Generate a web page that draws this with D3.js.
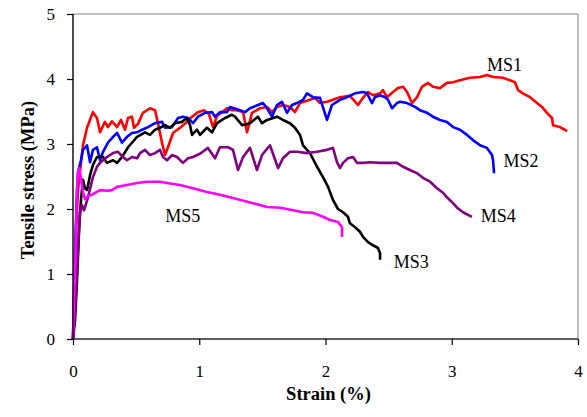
<!DOCTYPE html>
<html>
<head>
<meta charset="utf-8">
<script src="https://cdn.jsdelivr.net/npm/d3@7"></script>
<style>
  html, body { margin: 0; padding: 0; background: #fff; }
  svg { display: block; }
</style>
</head>
<body>
<svg id="chart" width="587" height="417"></svg>
<script>
// Tensile stress–strain curves of five mortar specimens (MS1–MS5)
const seriesNames = ["MS1", "MS2", "MS3", "MS4", "MS5"];

// strain (%) / stress (MPa) pairs per specimen
const ms1Strain = [0,0.008,0.024,0.040,0.055,0.079,0.111,0.158,0.190,0.214,0.253,0.277,0.309,0.349,0.380,0.412,0.436,0.467,0.483,0.515,0.554,0.610,0.650,0.673,0.705,0.729,0.752,0.792,0.848,0.903,0.943,0.990,1.038,1.077,1.109,1.141,1.180,1.220,1.259,1.299,1.347,1.378,1.418,1.481,1.537,1.576,1.616,1.663,1.719,1.758,1.798,1.877,1.917,1.956,2.012,2.059,2.115,2.194,2.257,2.297,2.337,2.376,2.432,2.455,2.487,2.535,2.574,2.614,2.646,2.685,2.725,2.764,2.812,2.851,2.907,2.962,3.010,3.065,3.145,3.224,3.279,3.327,3.406,3.461,3.501,3.525,3.564,3.620,3.675,3.715,3.754,3.794,3.802,3.857,3.913];
const ms1Stress = [0,0.75,1.68,2.29,2.57,2.98,3.25,3.49,3.40,3.18,3.34,3.26,3.35,3.26,3.37,3.22,3.40,3.42,3.25,3.31,3.48,3.55,3.52,3.32,3.02,2.83,2.95,3.17,3.25,3.34,3.42,3.49,3.52,3.46,3.26,3.43,3.49,3.55,3.52,3.52,3.49,3.18,3.48,3.55,3.57,3.49,3.57,3.60,3.57,3.49,3.63,3.68,3.71,3.63,3.65,3.68,3.72,3.74,3.60,3.71,3.80,3.75,3.78,3.83,3.72,3.80,3.86,3.88,3.80,3.63,3.72,3.88,3.94,3.88,3.86,3.94,3.95,3.98,4.02,4.03,4.06,4.03,4.02,3.98,3.95,3.83,3.78,3.72,3.63,3.57,3.48,3.40,3.29,3.26,3.20];

const ms2Strain = [0,0.008,0.016,0.032,0.040,0.063,0.079,0.111,0.135,0.158,0.190,0.214,0.238,0.277,0.317,0.349,0.388,0.428,0.467,0.507,0.547,0.594,0.650,0.705,0.729,0.784,0.832,0.871,0.911,0.950,0.990,1.046,1.101,1.125,1.164,1.220,1.244,1.323,1.362,1.402,1.465,1.505,1.537,1.576,1.616,1.655,1.695,1.735,1.774,1.822,1.853,1.901,1.956,2.012,2.051,2.115,2.170,2.234,2.297,2.329,2.368,2.392,2.432,2.471,2.495,2.527,2.566,2.590,2.646,2.709,2.748,2.804,2.851,2.907,2.962,3.010,3.065,3.121,3.168,3.224,3.279,3.319,3.327,3.335];
const ms2Stress = [0,0.60,1.37,2.29,2.57,2.75,2.91,2.98,2.72,2.91,2.95,2.75,2.88,3.02,3.11,3.17,3.02,3.11,3.17,3.18,3.22,3.26,3.32,3.34,3.25,3.26,3.40,3.42,3.40,3.32,3.42,3.48,3.49,3.42,3.49,3.49,3.57,3.52,3.49,3.55,3.60,3.63,3.55,3.42,3.60,3.65,3.48,3.60,3.63,3.68,3.78,3.72,3.71,3.37,3.60,3.68,3.72,3.78,3.80,3.78,3.63,3.72,3.75,3.72,3.68,3.55,3.63,3.65,3.63,3.57,3.52,3.48,3.42,3.37,3.34,3.26,3.22,3.14,3.06,2.98,2.94,2.83,2.75,2.55];

const ms3Strain = [0,0.016,0.032,0.048,0.063,0.079,0.095,0.111,0.135,0.158,0.190,0.238,0.269,0.317,0.349,0.388,0.436,0.507,0.570,0.610,0.650,0.689,0.729,0.768,0.808,0.863,0.903,0.927,0.943,0.982,1.006,1.061,1.101,1.141,1.204,1.259,1.283,1.339,1.402,1.465,1.497,1.537,1.616,1.663,1.719,1.758,1.798,1.822,1.877,1.933,1.980,2.020,2.059,2.099,2.139,2.178,2.194,2.234,2.273,2.297,2.337,2.368,2.416,2.432,2.432];
const ms3Stress = [0,0.29,0.91,1.68,2.14,2.45,2.32,2.29,2.52,2.68,2.80,2.80,2.71,2.75,2.71,2.80,2.95,3.11,3.18,3.14,3.22,3.25,3.29,3.25,3.32,3.34,3.40,3.29,3.14,3.22,3.14,3.25,3.18,3.32,3.40,3.45,3.42,3.29,3.32,3.42,3.32,3.37,3.42,3.37,3.32,3.25,3.14,2.98,2.86,2.65,2.49,2.34,2.14,2.00,1.95,1.88,1.78,1.72,1.65,1.57,1.49,1.45,1.40,1.32,1.22];

const ms4Strain = [0,0.016,0.032,0.048,0.055,0.071,0.087,0.095,0.119,0.158,0.190,0.214,0.269,0.317,0.356,0.396,0.428,0.467,0.507,0.531,0.570,0.610,0.650,0.689,0.713,0.745,0.784,0.824,0.871,0.911,0.950,1.006,1.069,1.125,1.164,1.228,1.267,1.307,1.347,1.402,1.457,1.497,1.560,1.624,1.663,1.719,1.774,1.853,1.933,2.012,2.059,2.091,2.115,2.139,2.178,2.218,2.249,2.297,2.352,2.432,2.511,2.566,2.614,2.669,2.725,2.772,2.828,2.883,2.931,2.962,3.010,3.042,3.089,3.160];
const ms4Stress = [0,0.45,1.06,1.68,1.95,2.06,1.98,2.03,2.18,2.49,2.65,2.71,2.80,2.86,2.88,2.80,2.75,2.80,2.78,2.86,2.91,2.83,2.86,2.91,2.80,2.75,2.83,2.80,2.71,2.78,2.80,2.85,2.94,2.78,2.95,2.95,2.91,2.60,2.80,2.94,2.60,2.83,2.98,2.63,2.78,2.88,2.88,2.86,2.88,2.91,2.94,2.72,2.63,2.71,2.78,2.80,2.71,2.71,2.72,2.71,2.71,2.71,2.65,2.60,2.55,2.48,2.42,2.32,2.25,2.18,2.09,2.02,1.95,1.88];

const ms5Strain = [0,0.008,0.016,0.024,0.032,0.040,0.048,0.063,0.079,0.095,0.119,0.150,0.214,0.269,0.309,0.349,0.428,0.507,0.586,0.689,0.745,0.848,0.950,1.061,1.164,1.267,1.426,1.537,1.640,1.743,1.822,1.901,1.980,2.036,2.099,2.131,2.131];
const ms5Stress = [0,0.60,1.06,1.68,2.29,2.57,2.63,2.48,2.26,2.15,2.20,2.22,2.29,2.28,2.29,2.34,2.37,2.40,2.42,2.42,2.40,2.37,2.32,2.26,2.22,2.17,2.09,2.03,2.02,1.98,1.95,1.94,1.88,1.83,1.80,1.72,1.57];

const xTicks = [0, 1, 2, 3, 4];
const yTicks = [0, 1, 2, 3, 4, 5];

const strains = [ms1Strain, ms2Strain, ms3Strain, ms4Strain, ms5Strain];
const stresses = [ms1Stress, ms2Stress, ms3Stress, ms4Stress, ms5Stress];

// drawing setup
const colors = ["#ff0000", "#0000ff", "#000000", "#800080", "#ff00ff"];
const serif = "Liberation Serif";
const margin = { left: 73, top: 14, right: 9, bottom: 78 };
const W = 587, H = 417;

const svg = d3.select("#chart");
const x = d3.scaleLinear().domain([0, 4]).range([margin.left, W - margin.right]);
const y = d3.scaleLinear().domain([0, 5]).range([H - margin.bottom, margin.top]);

// plot frame (top/right edges)
svg.append("rect")
  .attr("x", x(0)).attr("y", y(5))
  .attr("width", x(4) - x(0)).attr("height", y(0) - y(5))
  .attr("fill", "none").attr("stroke", "#808080").attr("stroke-width", 1);

// curves
const line = d3.line().x(d => x(d[0])).y(d => y(d[1]));
const g = svg.append("g");
seriesNames.forEach((name, i) => {
  const pts = strains[i].map((s, k) => [s, stresses[i][k]]);
  g.append("path")
    .datum(pts)
    .attr("d", line)
    .attr("fill", "none")
    .attr("stroke", colors[i])
    .attr("stroke-width", 2.6)
    .attr("stroke-linejoin", "round")
    .attr("stroke-linecap", "butt");
});

// axes
const xAxis = d3.axisBottom(x).tickValues(xTicks).tickFormat(d3.format("d")).tickSize(6).tickPadding(20);
const yAxis = d3.axisLeft(y).tickValues(yTicks).tickFormat(d3.format("d")).tickSize(6).tickPadding(12);

const gx = svg.append("g").attr("transform", `translate(0,${y(0)})`).call(xAxis);
const gy = svg.append("g").attr("transform", `translate(${x(0)},0)`).call(yAxis);
[gx, gy].forEach(a => {
  a.attr("font-family", serif).attr("font-size", 17);
  a.select(".domain").attr("stroke", "#000").attr("stroke-width", 1.2);
  a.selectAll(".tick line").attr("stroke", "#000").attr("stroke-width", 1.2);
  a.selectAll(".tick text").attr("fill", "#000");
});
gy.selectAll(".tick text").attr("x", -18).attr("text-anchor", "end").attr("dy", "0.33em");
gx.select(".domain").attr("d", `M${x(0)},0H${x(4)}`);
gy.select(".domain").attr("d", `M0,${y(0)}V${y(5)}`);

// axis titles
svg.append("text")
  .attr("x", (x(0) + x(4)) / 2 + 3)
  .attr("y", 400)
  .attr("text-anchor", "middle")
  .attr("font-family", serif)
  .attr("font-weight", "bold")
  .attr("font-size", 18.5)
  .text("Strain (%)");

svg.append("text")
  .attr("transform", `translate(34,180) rotate(-90)`)
  .attr("text-anchor", "middle")
  .attr("font-family", serif)
  .attr("font-weight", "bold")
  .attr("font-size", 18.5)
  .text("Tensile stress (MPa)");

// series labels, anchored in data units
const labelAnchors = [
  { name: "MS1", at: [3.28, 4.12] },
  { name: "MS2", at: [3.41, 2.65] },
  { name: "MS3", at: [2.54, 1.09] },
  { name: "MS4", at: [3.23, 1.80] },
  { name: "MS5", at: [0.73, 1.80] }
];
svg.append("g").selectAll("text")
  .data(labelAnchors)
  .join("text")
  .attr("x", d => x(d.at[0]))
  .attr("y", d => y(d.at[1]))
  .attr("font-family", serif)
  .attr("font-size", 18)
  .text(d => d.name);
</script>
</body>
</html>
